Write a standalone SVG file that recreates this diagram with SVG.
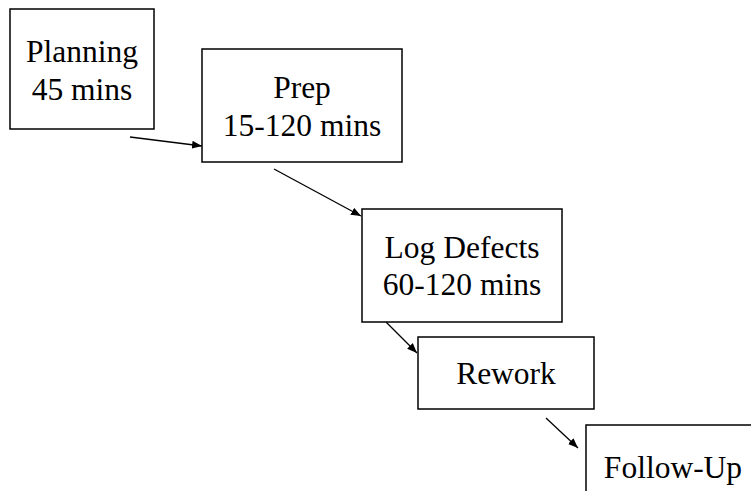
<svg xmlns="http://www.w3.org/2000/svg" width="751" height="491" viewBox="0 0 751 491">
  <style>
    .box { fill: #ffffff; stroke: #000000; stroke-width: 1.5; }
    .link { stroke: #000000; stroke-width: 1.3; fill: none; }
    text { font-family: "Liberation Serif", "Times New Roman", Tinos, "Noto Serif", "DejaVu Serif", serif; font-size: 31.5px; fill: #000000; text-anchor: middle; }
  </style>
  <defs>
    <marker id="arrow" viewBox="0 0 10 8" refX="10" refY="4" markerWidth="10" markerHeight="8" markerUnits="userSpaceOnUse" orient="auto">
      <path d="M0,0 L10,4 L0,8 Z" fill="#000000"/>
    </marker>
  </defs>
  <rect width="751" height="491" fill="#ffffff"/>

  <g id="connectors">
    <line class="link" x1="130" y1="137" x2="202" y2="146" marker-end="url(#arrow)"/>
    <line class="link" x1="274" y1="169" x2="361" y2="216" marker-end="url(#arrow)"/>
    <line class="link" x1="386" y1="322" x2="417" y2="353" marker-end="url(#arrow)"/>
    <line class="link" x1="546" y1="418" x2="578" y2="448" marker-end="url(#arrow)"/>
  </g>

  <g id="planning">
    <rect class="box" x="10" y="9" width="144" height="120"/>
    <text x="82" y="62">Planning</text>
    <text x="82" y="100">45 mins</text>
  </g>

  <g id="prep">
    <rect class="box" x="202" y="49" width="200" height="113"/>
    <text x="302" y="98">Prep</text>
    <text x="302" y="136">15-120 mins</text>
  </g>

  <g id="log-defects">
    <rect class="box" x="362" y="209" width="200" height="113"/>
    <text x="462" y="258">Log Defects</text>
    <text x="462" y="295">60-120 mins</text>
  </g>

  <g id="rework">
    <rect class="box" x="418" y="337" width="176" height="72"/>
    <text x="506" y="384">Rework</text>
  </g>

  <g id="follow-up">
    <rect class="box" x="586" y="425" width="174" height="80"/>
    <text x="673" y="478">Follow-Up</text>
  </g>
</svg>
